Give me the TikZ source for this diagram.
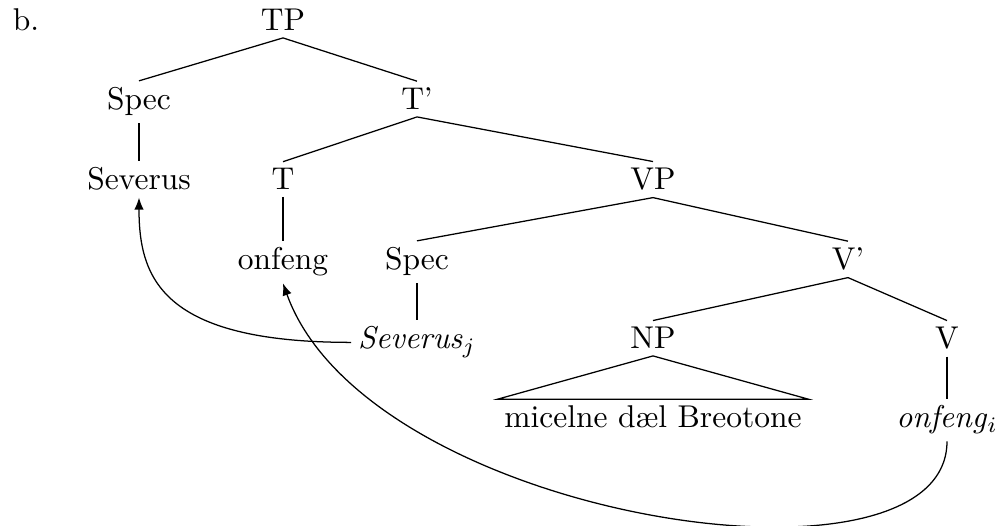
\documentclass[tikz,border=0pt]{standalone}
\usepackage{fontspec}
\usetikzlibrary{arrows.meta}
\tikzset{
cat/.style={
	inner sep=2pt,
	anchor=base,
},
branch/.style={
	line width=0.4pt,
},
movement/.style={
	-{Latex[length=3.8pt, width=3pt]},
},
}

\begin{document}
\begin{tikzpicture}[x=0.3175pt, y=-0.3175pt]
		\useasboundingbox (0,0) rectangle (998,526);
		% Label
		\node[cat, anchor=base west] (lbl) at (6,31) {b.};
		% Level 0
		\node[cat] (TP) at (283,31) {TP};
		% Level 1
		\node[cat] (SpecT) at (139,110) {Spec};
		\node[cat] (Tbar) at (417,110) {T'};
		% Level 2
		\node[cat] (Subj) at (139,190) {Severus};
		\node[cat] (T) at (283,190) {T};
		\node[cat] (VP) at (653,190) {VP};
		% Level 3
		\node[cat] (Verb) at (283,270) {onfeng};
		\node[cat] (SpecV) at (417,270) {Spec};
		\node[cat] (Vbar) at (848,270) {V'};
		% Level 4
		\node[cat] (Trace) at (417,349) {\textit{Severus}$_j$};
		\node[cat] (NP) at (653,349) {NP};
		\node[cat] (V) at (947,349) {V};
		% Level 5
		\node[cat] (Obj) at (653,428) {micelne dæl Breotone};
		\node[cat] (VTrace) at (947,428) {\textit{onfeng}$_i$};
		
		% Branches
		
		% TP ->
		\draw[branch] (TP.south) -- (SpecT.north);
		\draw[branch] (TP.south) -- (Tbar.north);
		% Spec ->
		\draw[branch] (SpecT.south) -- (Subj.north);
		% T' ->
		\draw[branch] (Tbar.south) -- (T.north);
		\draw[branch] (Tbar.south) -- (VP.north);
		% T ->
		\draw[branch] (T.south) -- (Verb.north);
		% VP ->
		\draw[branch] (VP.south) -- (SpecV.north);
		\draw[branch] (VP.south) -- (Vbar.north);
		% Spec ->
		\draw[branch] (SpecV.south) -- (Trace.north);
		% V' ->
		\draw[branch] (Vbar.south) -- (NP.north);
		\draw[branch] (Vbar.south) -- (V.north);
		% V ->
		\draw[branch] (V.south) -- (VTrace.north);
		% NP -> (roof)
		\draw[branch] (NP.south) -- (Obj.north west) -- (Obj.north east) -- cycle;
		
		% Movement
		\draw[movement] (Trace.west) .. controls +(-190,0) and +(0,80) .. (Subj.south);
		\draw[movement] (VTrace.south) .. controls +(0,165) and +(85,237) .. (Verb.south);
	\end{tikzpicture}
\end{document}
